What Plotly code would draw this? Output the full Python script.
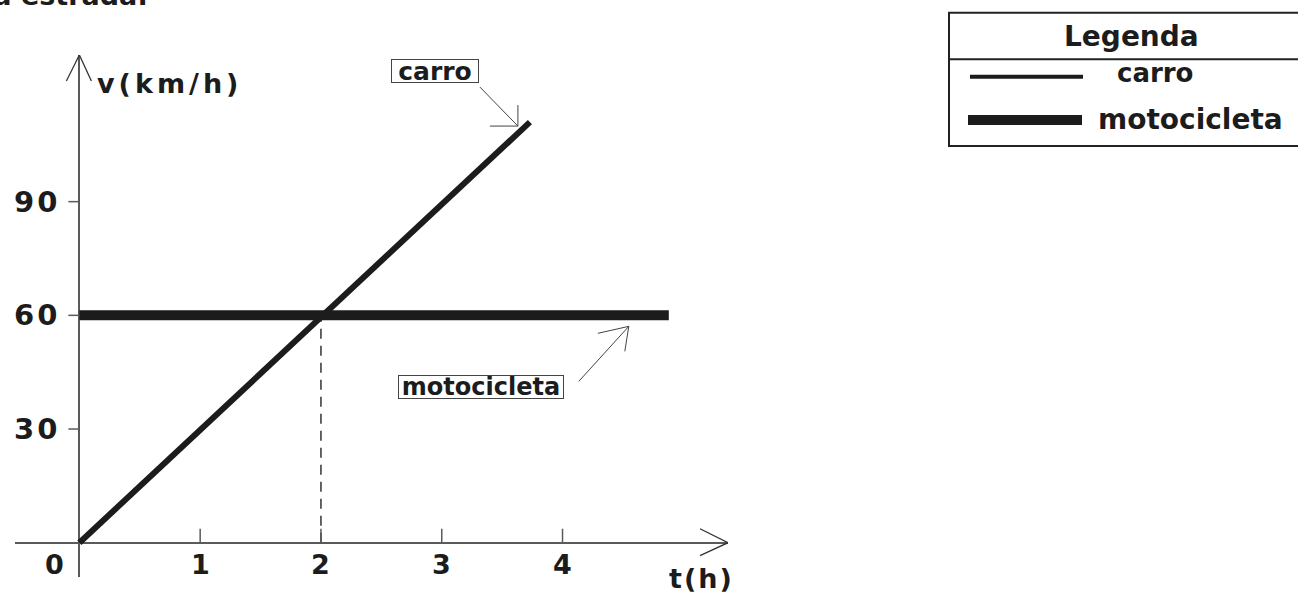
import plotly.graph_objects as go

# ---------------- data ----------------
t_carro = [0, 3.73]
v_carro = [0, 111]
t_moto = [0, 4.88]
v_moto = [60, 60]
t_encontro = [2, 2]
v_encontro = [0, 60]

x_ticks = [1, 2, 3, 4]
x_tick_labels = ["1", "2", "3", "4"]
y_ticks = [30, 60, 90]
y_tick_labels = ["30", "60", "90"]

x_range = [-0.533, 5.37]
y_range = [-9.05, 128.7]

series_names = ["carro", "motocicleta"]
title_text = "da estrada:"
legend_title = "Legenda"

# ---------------- layout constants ----------------
W, H = 1298, 593
ML, MR, MT, MB = 15, 570, 55, 16
PW, PH = W - ML - MR, H - MT - MB
FONT = "DejaVu Sans, Verdana, sans-serif"
INK = "#1c1c1c"
AXC = "#5a5a5a"


def px(x):
    return (x - ML) / PW


def py(y):
    return (H - MB - y) / PH


fig = go.Figure()

fig.add_trace(go.Scatter(x=t_encontro, y=v_encontro, mode="lines",
                         line=dict(color="#333", width=1.5, dash="10px,7px"),
                         hoverinfo="skip", showlegend=False))
fig.add_trace(go.Scatter(x=t_carro, y=v_carro, mode="lines", name=series_names[0],
                         line=dict(color=INK, width=6), showlegend=False))
fig.add_trace(go.Scatter(x=t_moto, y=v_moto, mode="lines", name=series_names[1],
                         line=dict(color=INK, width=10), showlegend=False))

shapes = []
annotations = []

# tick marks
for t in x_ticks:
    shapes.append(dict(type="line", xref="x", yref="y", ysizemode="pixel", yanchor=0,
                       x0=t, x1=t, y0=0, y1=14, line=dict(color=AXC, width=1.5)))
for v in y_ticks:
    shapes.append(dict(type="line", xref="x", yref="y", xsizemode="pixel", xanchor=0,
                       x0=-11, x1=0, y0=v, y1=v, line=dict(color=AXC, width=1.5)))

# axis arrowheads
for dx, dy in [(-13, -26), (12, -26)]:
    shapes.append(dict(type="line", xref="x", yref="y", xsizemode="pixel", ysizemode="pixel",
                       xanchor=0, yanchor=y_range[1], x0=0, y0=0, x1=dx, y1=dy,
                       line=dict(color="#333", width=1.3)))
for dx, dy in [(-28, 14), (-28, -13)]:
    shapes.append(dict(type="line", xref="x", yref="y", xsizemode="pixel", ysizemode="pixel",
                       xanchor=x_range[1], yanchor=0, x0=0, y0=0, x1=dx, y1=dy,
                       line=dict(color="#333", width=1.3)))

# callout arrows (pixel offsets from the end of each series)
callouts = [
    (t_carro[-1], v_carro[-1], [((-50, 35), (-12, -4)), ((-40, -4), (-12, -4)), ((-12, 17), (-12, -4))]),
    (t_moto[-1], v_moto[-1], [((-90, -66), (-40, -11)), ((-71, -18), (-40, -11)), ((-44, -36), (-40, -11))]),
]
for xa, ya, segs in callouts:
    for (x0, y0), (x1, y1) in segs:
        shapes.append(dict(type="line", xref="x", yref="y", xsizemode="pixel", ysizemode="pixel",
                           xanchor=xa, yanchor=ya, x0=x0, y0=y0, x1=x1, y1=y1,
                           line=dict(color="#444", width=1)))

# callout labels
annotations.append(dict(x=t_carro[-1], y=v_carro[-1], xref="x", yref="y", text=series_names[0],
                        showarrow=False, xshift=-95, yshift=51, bordercolor="#444", borderwidth=1,
                        borderpad=0, bgcolor="white", width=86, height=22,
                        font=dict(family=FONT, size=25, color=INK, weight="bold")))
annotations.append(dict(x=t_moto[-1], y=v_moto[-1], xref="x", yref="y", text=series_names[1],
                        showarrow=False, xshift=-188, yshift=-72, bordercolor="#444", borderwidth=1,
                        borderpad=0, bgcolor="white", width=164, height=22,
                        font=dict(family=FONT, size=24, color=INK, weight="bold")))

# tick labels
for t, lab in zip(x_ticks, x_tick_labels):
    annotations.append(dict(x=t, y=0, xref="x", yref="y", text=lab, showarrow=False,
                            yshift=-22, font=dict(family=FONT, size=27, color=INK, weight="bold")))
annotations.append(dict(x=0, y=0, xref="x", yref="y", text="0", showarrow=False,
                        xshift=-25, yshift=-22, font=dict(family=FONT, size=27, color=INK, weight="bold")))
for v, lab in zip(y_ticks, y_tick_labels):
    annotations.append(dict(x=0, y=v, xref="x", yref="y",
                            text='<span style="letter-spacing:3px">' + lab + '</span>',
                            showarrow=False, xanchor="right", xshift=-17,
                            font=dict(family=FONT, size=29, color=INK, weight="bold")))

# axis titles
annotations.append(dict(x=0, y=y_range[1], xref="x", yref="y",
                        text='<span style="letter-spacing:4px">v(km/h)</span>',
                        showarrow=False, xanchor="left", xshift=16, yshift=-28,
                        font=dict(family=FONT, size=27, color=INK, weight="bold")))
annotations.append(dict(x=x_range[1], y=0, xref="x", yref="y",
                        text='<span style="letter-spacing:2px">t(h)</span>',
                        showarrow=False, xshift=-27, yshift=-36,
                        font=dict(family=FONT, size=27, color=INK, weight="bold")))

# cut-off title fragment
annotations.append(dict(x=px(150), y=py(13), xref="paper", yref="paper", text=title_text,
                        showarrow=False, xanchor="right", yanchor="bottom",
                        font=dict(family=FONT, size=27, color=INK, weight="bold")))

# legend table (drawn manually)
shapes.append(dict(type="rect", xref="paper", yref="paper", x0=px(949), x1=px(1312),
                   y0=py(146), y1=py(12.7), line=dict(color="#222", width=2)))
shapes.append(dict(type="line", xref="paper", yref="paper", x0=px(949), x1=px(1312),
                   y0=py(59.3), y1=py(59.3), line=dict(color="#222", width=2)))
shapes.append(dict(type="line", xref="paper", yref="paper", x0=px(970), x1=px(1083),
                   y0=py(76.7), y1=py(76.7), line=dict(color=INK, width=4)))
shapes.append(dict(type="line", xref="paper", yref="paper", x0=px(968), x1=px(1082),
                   y0=py(120), y1=py(120), line=dict(color=INK, width=10)))
annotations.append(dict(x=px(1131), y=py(36.7), xref="paper", yref="paper", text=legend_title,
                        showarrow=False, xanchor="center", yanchor="middle",
                        font=dict(family=FONT, size=28, color=INK, weight="bold")))
annotations.append(dict(x=px(1155), y=py(73), xref="paper", yref="paper", text=series_names[0],
                        showarrow=False, xanchor="center", yanchor="middle",
                        font=dict(family=FONT, size=26, color=INK, weight="bold")))
annotations.append(dict(x=px(1190), y=py(119), xref="paper", yref="paper", text=series_names[1],
                        showarrow=False, xanchor="center", yanchor="middle",
                        font=dict(family=FONT, size=28, color=INK, weight="bold")))

fig.update_layout(
    width=W, height=H,
    margin=dict(l=ML, r=MR, t=MT, b=MB, pad=0),
    paper_bgcolor="white", plot_bgcolor="white",
    showlegend=False,
    shapes=shapes, annotations=annotations,
    xaxis=dict(range=x_range, showgrid=False, showticklabels=False, ticks="", showline=False,
               zeroline=True, zerolinecolor=AXC, zerolinewidth=2, fixedrange=True),
    yaxis=dict(range=y_range, showgrid=False, showticklabels=False, ticks="", showline=False,
               zeroline=True, zerolinecolor=AXC, zerolinewidth=2, fixedrange=True),
    font=dict(family=FONT),
)

fig.write_html("out.html", config={"displayModeBar": False},
               post_script="document.body.style.margin='0px';document.body.style.overflow='hidden';")
